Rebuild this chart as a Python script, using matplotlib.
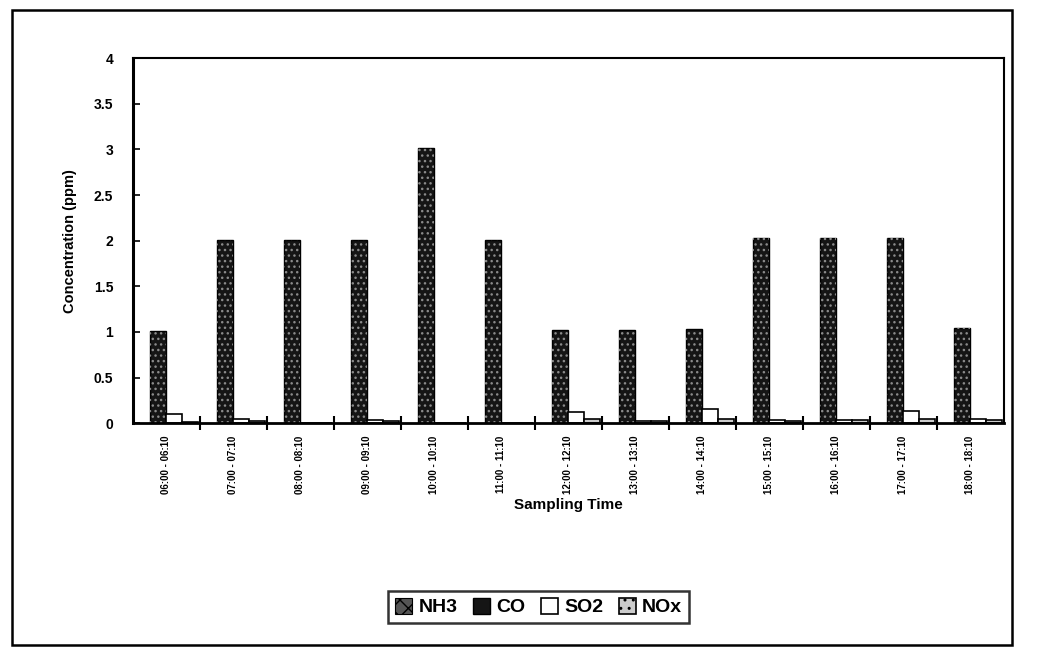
import numpy as np
import matplotlib.pyplot as plt
from matplotlib.patches import Rectangle

times = ["06:00 - 06:10", "07:00 - 07:10", "08:00 - 08:10", "09:00 - 09:10",
         "10:00 - 10:10", "11:00 - 11:10", "12:00 - 12:10", "13:00 - 13:10",
         "14:00 - 14:10", "15:00 - 15:10", "16:00 - 16:10", "17:00 - 17:10",
         "18:00 - 18:10"]
nh3 = [0, 0, 0, 0, 0, 0, 0, 0, 0, 0, 0, 0, 0]
co = [1.01, 2.01, 2.01, 2.01, 3.02, 2.01, 1.02, 1.02, 1.03, 2.03, 2.03, 2.03, 1.04]
so2 = [0.1, 0.05, 0.0, 0.03, 0.0, 0.0, 0.12, 0.02, 0.15, 0.03, 0.03, 0.13, 0.05]
nox = [0.01, 0.02, 0.0, 0.02, 0.0, 0.0, 0.04, 0.02, 0.05, 0.02, 0.03, 0.05, 0.03]

plt.rcParams['font.family'] = ['Liberation Sans', 'DejaVu Sans']
plt.rcParams['font.weight'] = 'bold'
plt.rcParams['hatch.linewidth'] = 1.0

fig = plt.figure(figsize=(10.62, 6.54), dpi=100)
ax = fig.add_axes([0.125, 0.353, 0.82, 0.558])

x = np.arange(len(times))
w = 0.24

b1 = ax.bar(x - 1.5 * w, nh3, w, color='#555555', edgecolor='black', lw=0.8,
            hatch='xx', label='NH3')
b2 = ax.bar(x - 0.5 * w, co, w, color='#151515', edgecolor='black', lw=1.0,
            label='CO')
# light speckle over the dark CO bars
ax.bar(x - 0.5 * w, co, w, color='none', edgecolor='#8a8a8a', lw=0, hatch='...')
b3 = ax.bar(x + 0.5 * w, so2, w, color='white', edgecolor='black', lw=1.2,
            label='SO2')
b4 = ax.bar(x + 1.5 * w, nox, w, color='#cccccc', edgecolor='black', lw=1.2,
            hatch='..', label='NOx')

ax.set_xlim(-0.5, len(times) - 0.5)
ax.set_ylim(0, 4)
ax.set_yticks(np.arange(0, 4.01, 0.5))
ax.set_yticklabels(['0', '0.5', '1', '1.5', '2', '2.5', '3', '3.5', '4'],
                   fontsize=10, fontweight='bold')
ax.tick_params(axis='y', direction='in', length=5, width=1.2, pad=14)

# boundary ticks between categories, labels at category centres
ax.set_xticks(np.arange(0.5, len(times) - 0.5, 1))
ax.set_xticklabels([])
ax.tick_params(axis='x', which='major', direction='inout', length=10, width=1.5)
ax.set_xticks(x, minor=True)
ax.set_xticklabels(times, minor=True, rotation=90, fontsize=7, fontweight='bold',
                   family=['Liberation Sans Narrow', 'Liberation Sans'])
ax.tick_params(axis='x', which='minor', length=0, pad=9)

for s in ax.spines.values():
    s.set_linewidth(1.5)
ax.spines['left'].set_linewidth(2.2)
ax.spines['bottom'].set_linewidth(2.0)

ax.set_ylabel('Concentration (ppm)', fontsize=10.5, fontweight='bold', labelpad=12)
ax.set_xlabel('Sampling Time', fontsize=11, fontweight='bold', labelpad=3)

leg = ax.legend(handles=[b1, b2, b3, b4], loc='center', ncol=4,
                bbox_to_anchor=(0.466, -0.504), frameon=True, fancybox=False,
                handlelength=0.9, handleheight=0.9, handletextpad=0.3,
                columnspacing=0.8, borderpad=0.35,
                prop={'size': 14, 'weight': 'bold'})
leg.get_frame().set_edgecolor('black')
leg.get_frame().set_linewidth(1.8)

# outer chart border
fig.patches.append(Rectangle((0.011, 0.014), 0.942, 0.970, transform=fig.transFigure,
                             fill=False, edgecolor='black', lw=1.8))

fig.savefig('out.png', dpi=100, facecolor='white')
